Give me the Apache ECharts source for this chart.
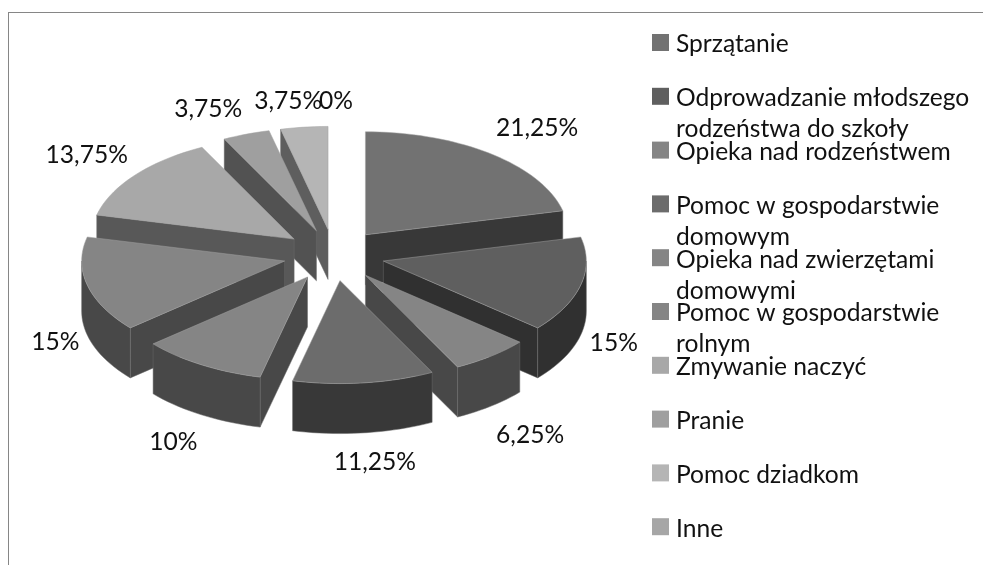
<!DOCTYPE html>
<html>
<head>
<meta charset="utf-8">
<style>
html, body { margin: 0; padding: 0; background: #fff; }
#frame { position: absolute; left: 8px; top: 12px; width: 975px; height: 553px; border-left: 1px solid #868686; border-top: 1px solid #868686; box-sizing: border-box; }
#main { position: absolute; left: 0; top: 0; width: 983px; height: 565px; }
</style>
</head>
<body>
<div id="frame"></div>
<div id="main"></div>
<script src="https://cdn.jsdelivr.net/npm/echarts@6/dist/echarts.min.js"></script>
<script>
const categories = ['Sprzątanie', 'Odprowadzanie młodszego\nrodzeństwa do szkoły', 'Opieka nad rodzeństwem',
    'Pomoc w gospodarstwie\ndomowym', 'Opieka nad zwierzętami\ndomowymi', 'Pomoc w gospodarstwie\nrolnym',
    'Zmywanie naczyć', 'Pranie', 'Pomoc dziadkom', 'Inne'];
const values = [21.25, 15, 6.25, 11.25, 10, 15, 13.75, 3.75, 3.75, 0];
const valueLabels = ['21,25%', '15%', '6,25%', '11,25%', '10%', '15%', '13,75%', '3,75%', '3,75%', '0%'];

const topColors = ['#727272', '#5f5f5f', '#858585', '#6c6c6c', '#858585', '#858585', '#a8a8a8', '#9f9f9f', '#b5b5b5', '#a6a6a6'];
const wallColors = ['#383838', '#303030', '#484848', '#383838', '#484848', '#484848', '#585858', '#525252', '#5e5e5e', '#505050'];
// back to front
const paintOrder = [8, 7, 9, 0, 6, 1, 5, 2, 4, 3];
// label offset from the slice's outer edge
const labelOffsets = [[46, -26], [33, 58], [39, 79], [11, 79], [-28, 77], [-32, 57], [-48, -20], [-38, -25], [-16, -26], [2, -25]];

const cx = 334, cy = 255, rx = 203, ry = 103, depth = 50, explode = 0.25;
const labelFont = '24.6px Lato, sans-serif';

function point(deg, k) {
    const t = deg * Math.PI / 180;
    return [k * rx * Math.sin(t), -k * ry * Math.cos(t)];
}

function arc(from, to, ox, oy, dy) {
    const pts = [];
    const n = Math.max(1, Math.ceil((to - from) / 2));
    for (let j = 0; j <= n; j++) {
        const p = point(from + (to - from) * j / n, 1);
        pts.push([ox + p[0], oy + p[1] + dy]);
    }
    return pts;
}

function renderSlice(i) {
    return function (params, api) {
        const before = values.slice(0, i).reduce((a, b) => a + b, 0);
        const start = before * 3.6;
        const end = (before + values[i]) * 3.6;
        const mid = (start + end) / 2;
        const off = point(mid, explode);
        const ox = cx + off[0], oy = cy + off[1];
        const children = [];
        const wall = { fill: wallColors[i], stroke: '#6a6a6a', lineWidth: 0.5 };

        if (values[i] > 0) {
            const a0 = point(start, 1), a1 = point(end, 1);
            if (Math.sin(start * Math.PI / 180) < -1e-6) {
                children.push({ type: 'polygon', style: wall, shape: { points: [
                    [ox, oy], [ox + a0[0], oy + a0[1]], [ox + a0[0], oy + a0[1] + depth], [ox, oy + depth]] } });
            }
            if (Math.sin(end * Math.PI / 180) > 1e-6) {
                children.push({ type: 'polygon', style: wall, shape: { points: [
                    [ox, oy], [ox + a1[0], oy + a1[1]], [ox + a1[0], oy + a1[1] + depth], [ox, oy + depth]] } });
            }
            const w0 = Math.max(start, 90), w1 = Math.min(end, 270);
            if (w1 > w0) {
                const upper = arc(w0, w1, ox, oy, 0);
                const lower = arc(w0, w1, ox, oy, depth).reverse();
                children.push({ type: 'polygon', style: wall, shape: { points: upper.concat(lower) } });
            }
            children.push({
                type: 'polygon',
                style: { fill: topColors[i], stroke: '#a0a0a0', lineWidth: 0.5 },
                shape: { points: [[ox, oy]].concat(arc(start, end, ox, oy, 0)) }
            });
        }

        const edge = point(mid, 1 + explode);
        children.push({
            type: 'text',
            z2: 100,
            style: {
                text: valueLabels[i],
                x: cx + edge[0] + labelOffsets[i][0],
                y: cy + edge[1] + labelOffsets[i][1],
                align: 'center',
                verticalAlign: 'middle',
                font: labelFont,
                fill: '#111'
            }
        });
        return { type: 'group', children: children };
    };
}

const myChart = echarts.init(document.getElementById('main'), null, { renderer: 'canvas' });
myChart.setOption({
    animation: false,
    backgroundColor: 'transparent',
    legend: {
        orient: 'vertical',
        left: 652,
        top: 29,
        padding: 0,
        height: 700,
        width: 330,
        itemGap: -8.2,
        itemWidth: 17,
        itemHeight: 62,
        selectedMode: false,
        // square in the first line of a two-line box
        icon: 'path://M0 0L0 0M0 62L0 62M0 5h17v17h-17z',
        // every item is two lines high, so all rows share one pitch
        formatter: function (name) { return name.indexOf('\n') >= 0 ? name : name + '\n '; },
        textStyle: { fontFamily: 'Lato, sans-serif', fontSize: 24.6, lineHeight: 31, color: '#111', padding: [0, 0, 0, 2] },
        data: categories
    },
    series: categories.map(function (name, i) {
        return {
            type: 'custom',
            name: name,
            coordinateSystem: 'none',
            z: 2 + paintOrder.indexOf(i),
            silent: true,
            itemStyle: { color: topColors[i] },
            data: [values[i]],
            renderItem: renderSlice(i)
        };
    })
});
</script>
</body>
</html>
